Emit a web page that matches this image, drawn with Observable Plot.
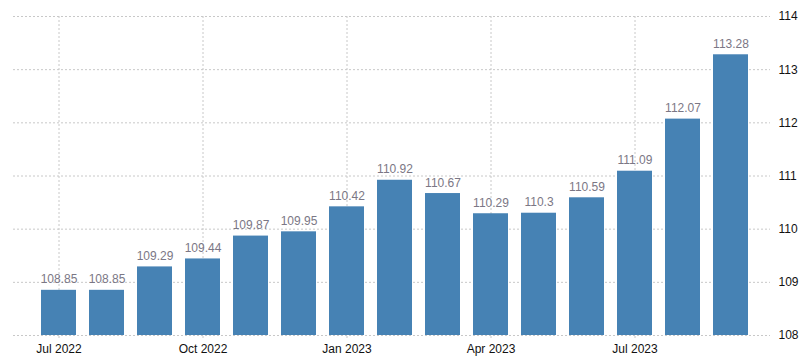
<!DOCTYPE html>
<html>
<head>
<meta charset="utf-8">
<script src="https://cdn.jsdelivr.net/npm/d3@7"></script>
<script src="https://cdn.jsdelivr.net/npm/@observablehq/plot@0.6"></script>
<style>
  html, body { margin: 0; padding: 0; background: #fff; }
  #chart svg { display: block; overflow: visible; }
</style>
</head>
<body>
<div id="chart"></div>
<script>
const months = ["Jul 2022","Aug 2022","Sep 2022","Oct 2022","Nov 2022","Dec 2022","Jan 2023","Feb 2023","Mar 2023","Apr 2023","May 2023","Jun 2023","Jul 2023","Aug 2023","Sep 2023"];
const values = [108.85,108.85,109.29,109.44,109.87,109.95,110.42,110.92,110.67,110.29,110.3,110.59,111.09,112.07,113.28];
const xTickLabels = ["Jul 2022","Oct 2022","Jan 2023","Apr 2023","Jul 2023"];
const yTicks = [108,109,110,111,112,113,114];
const yDomain = [108, 114];

const data = months.map((m, i) => ({month: m, value: values[i]}));

const chart = Plot.plot({
  width: 807,
  height: 362,
  marginTop: 16,
  marginBottom: 27,
  marginLeft: 13,
  marginRight: 37,
  style: {fontFamily: "Arial, 'Liberation Sans', sans-serif", fontSize: "12px", background: "#fff"},
  x: {domain: months, paddingInner: 0.27, paddingOuter: 0.135, insetLeft: 20.4, insetRight: 13.6, label: null},
  y: {domain: yDomain, label: null},
  marks: [
    Plot.ruleY(yTicks, {stroke: "#c8c8c8", strokeDasharray: "2,2", strokeWidth: 1}),
    Plot.ruleX(xTickLabels, {x: d => d, stroke: "#c8c8c8", strokeDasharray: "2,2", strokeWidth: 1, insetBottom: -5}),
    Plot.barY(data, {x: "month", y1: () => yDomain[0], y2: "value", fill: "#4682b4"}),
    Plot.text(data, {x: "month", y: "value", text: d => String(d.value), lineAnchor: "bottom", dy: -7, fill: "#7b7785", fontSize: 12}),
    Plot.axisY(yTicks, {anchor: "right", tickSize: 0, tickPadding: 8, fill: "#111", fontSize: 12, tickFormat: d => String(d)}),
    Plot.axisX(xTickLabels, {anchor: "bottom", tickSize: 0, tickPadding: 9, fill: "#111", fontSize: 12})
  ]
});
document.getElementById("chart").appendChild(chart);
</script>
</body>
</html>
